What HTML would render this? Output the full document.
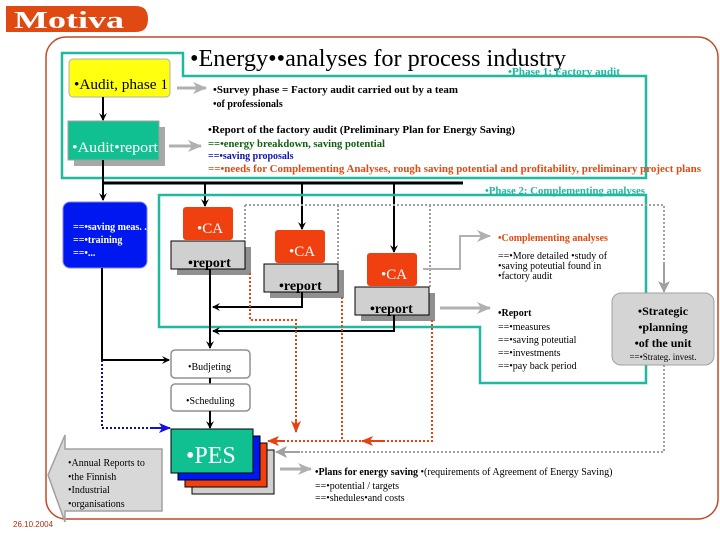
<!DOCTYPE html>
<html><head><meta charset="utf-8"><style>
html,body{margin:0;padding:0;background:#fff;width:720px;height:540px;overflow:hidden}
svg{display:block}
text{font-family:"Liberation Serif",serif}
</style></head><body>
<svg width="720" height="540" viewBox="0 0 720 540" xmlns="http://www.w3.org/2000/svg">
<defs>
<marker id="ab" markerWidth="8" markerHeight="8" refX="7" refY="4" orient="auto" markerUnits="userSpaceOnUse"><path d="M0,0 L8,4 L0,8 L3,4Z" fill="#000"/></marker>
<marker id="ag" markerWidth="14" markerHeight="12" refX="13" refY="6" orient="auto" markerUnits="userSpaceOnUse"><path d="M0,0 L14,6 L0,12 L4,6Z" fill="#b0b0b0"/></marker>
<marker id="ar" markerWidth="12" markerHeight="10" refX="11" refY="5" orient="auto" markerUnits="userSpaceOnUse"><path d="M0,0 L12,5 L0,10 L3,5Z" fill="#e84010"/></marker>
<marker id="an" markerWidth="12" markerHeight="10" refX="11" refY="5" orient="auto" markerUnits="userSpaceOnUse"><path d="M0,0 L12,5 L0,10 L3,5Z" fill="#1010e0"/></marker>
<marker id="agd" markerWidth="12" markerHeight="12" refX="11" refY="6" orient="auto" markerUnits="userSpaceOnUse"><path d="M0,0 L12,6 L0,12 L3,6Z" fill="#a0a0a0"/></marker>
</defs>
<!-- logo -->
<path d="M6,6 H136 Q148,6 148,19 Q148,32 136,32 H6Z" fill="#e04a12"/>
<text x="14" y="28" font-weight="bold" font-size="24" fill="#fff" textLength="110" lengthAdjust="spacingAndGlyphs">Motiva</text>
<!-- outer frame -->
<rect x="46" y="37" width="672" height="482" rx="20" fill="none" stroke="#c04a28" stroke-width="1.5"/>
<!-- phase 1 box -->
<path d="M62,53 H183 V76 H646 V178 H62Z" fill="none" stroke="#20b8a0" stroke-width="2.5"/>
<text x="190" y="66" font-size="24" textLength="376" lengthAdjust="spacingAndGlyphs">•Energy••analyses for process industry</text>
<text x="508" y="75" font-size="10" font-weight="bold" fill="#20b8a0" textLength="112" lengthAdjust="spacingAndGlyphs">•Phase 1: Factory audit</text>
<!-- yellow -->
<rect x="69" y="59" width="101" height="38" rx="4" fill="#ffff10" stroke="#b0b0b0"/>
<text x="74" y="89" font-size="15" textLength="94" lengthAdjust="spacingAndGlyphs">•Audit, phase 1</text>
<line x1="177" y1="88" x2="206" y2="88" stroke="#b0b0b0" stroke-width="3" marker-end="url(#ag)"/>
<text x="213" y="93" font-size="10" font-weight="bold" textLength="245" lengthAdjust="spacingAndGlyphs">•Survey phase = Factory audit carried out by a team</text>
<text x="213" y="107" font-size="10" font-weight="bold">•of professionals</text>
<!-- audit report -->
<rect x="74" y="127" width="91" height="39" fill="#a8a8a8"/>
<rect x="68" y="121" width="91" height="39" fill="#10c090" stroke="#a0a0a0"/>
<text x="72" y="152" font-size="15" fill="#fff" textLength="86" lengthAdjust="spacingAndGlyphs">•Audit•report</text>
<line x1="169" y1="146" x2="201" y2="146" stroke="#b0b0b0" stroke-width="3" marker-end="url(#ag)"/>
<text x="208" y="133" font-size="10" font-weight="bold" textLength="307" lengthAdjust="spacingAndGlyphs">•Report of the factory audit (Preliminary Plan for Energy Saving)</text>
<text x="208" y="147" font-size="10" font-weight="bold" fill="#106010" textLength="177" lengthAdjust="spacingAndGlyphs">==•energy breakdown, saving potential</text>
<text x="208" y="159" font-size="10" font-weight="bold" fill="#1010b0">==•saving proposals</text>
<text x="208" y="172" font-size="10" font-weight="bold" fill="#e04a12" textLength="493" lengthAdjust="spacingAndGlyphs">==•needs for Complementing Analyses, rough saving potential and profitability, preliminary project plans</text>
<!-- black lines top -->
<line x1="103" y1="97" x2="103" y2="120" stroke="#000" stroke-width="2" marker-end="url(#ab)"/>
<line x1="103" y1="160" x2="103" y2="200" stroke="#000" stroke-width="2" marker-end="url(#ab)"/>
<line x1="103" y1="183" x2="463" y2="183" stroke="#000" stroke-width="3"/>
<line x1="205" y1="183" x2="205" y2="206" stroke="#000" stroke-width="2" marker-end="url(#ab)"/>
<line x1="302" y1="183" x2="302" y2="229" stroke="#000" stroke-width="2" marker-end="url(#ab)"/>
<line x1="394" y1="183" x2="394" y2="252" stroke="#000" stroke-width="2" marker-end="url(#ab)"/>
<!-- phase 2 box -->
<path d="M159,195 H646 V383 H480 V327 H159Z" fill="none" stroke="#20b8a0" stroke-width="2.5"/>
<text x="485" y="194" font-size="10" font-weight="bold" fill="#20b8a0" textLength="160" lengthAdjust="spacingAndGlyphs">•Phase 2: Complementing analyses</text>
<!-- gray dotted -->
<path d="M245,205 H664 V280" fill="none" stroke="#a0a0a0" stroke-width="2" stroke-dasharray="2,2"/>
<line x1="664" y1="262" x2="664" y2="292" stroke="#a0a0a0" stroke-width="2" marker-end="url(#agd)"/>
<line x1="338" y1="205" x2="338" y2="264" stroke="#a0a0a0" stroke-width="2" stroke-dasharray="2,2"/>
<line x1="430" y1="205" x2="430" y2="287" stroke="#a0a0a0" stroke-width="2" stroke-dasharray="2,2"/>
<line x1="245" y1="205" x2="245" y2="241" stroke="#a0a0a0" stroke-width="2" stroke-dasharray="2,2"/>
<path d="M664,365 V452 H296" fill="none" stroke="#a0a0a0" stroke-width="2" stroke-dasharray="2,2"/>
<line x1="300" y1="452" x2="276" y2="452" stroke="#a0a0a0" stroke-width="2" marker-end="url(#agd)"/>
<!-- blue box -->
<rect x="63" y="202" width="84" height="66" rx="7" fill="#0018f0" stroke="#8080ff"/>
<text x="73" y="230" font-size="10" font-weight="bold" fill="#fff">==•saving meas. .</text>
<text x="73" y="243" font-size="10" font-weight="bold" fill="#fff">==•training</text>
<text x="73" y="256" font-size="10" font-weight="bold" fill="#fff">==•...</text>
<!-- CA boxes -->
<g>
<rect x="183" y="207" width="50" height="33" rx="3" fill="#f04010"/>
<text x="197" y="233" font-size="15" fill="#fff">•CA</text>
<rect x="177" y="247" width="74" height="28" fill="#909090"/>
<rect x="171" y="241" width="74" height="28" fill="#d0d0d0" stroke="#000"/>
<text x="188" y="267" font-size="14" font-weight="bold">•report</text>
</g>
<g>
<rect x="275" y="230" width="50" height="33" rx="3" fill="#f04010"/>
<text x="289" y="256" font-size="15" fill="#fff">•CA</text>
<rect x="270" y="270" width="74" height="28" fill="#909090"/>
<rect x="264" y="264" width="74" height="28" fill="#d0d0d0" stroke="#000"/>
<text x="279" y="290" font-size="14" font-weight="bold">•report</text>
</g>
<g>
<rect x="367" y="253" width="50" height="33" rx="3" fill="#f04010"/>
<text x="381" y="279" font-size="15" fill="#fff">•CA</text>
<rect x="361" y="293" width="74" height="28" fill="#909090"/>
<rect x="355" y="287" width="74" height="28" fill="#d0d0d0" stroke="#000"/>
<text x="370" y="313" font-size="14" font-weight="bold">•report</text>
</g>
<!-- black connectors middle -->
<line x1="210" y1="269" x2="210" y2="348" stroke="#000" stroke-width="2" marker-end="url(#ab)"/>
<path d="M302,292 V307 H213" fill="none" stroke="#000" stroke-width="2" marker-end="url(#ab)"/>
<path d="M394,315 V331 H213" fill="none" stroke="#000" stroke-width="2" marker-end="url(#ab)"/>
<line x1="102" y1="268" x2="102" y2="360" stroke="#000" stroke-width="2"/>
<line x1="102" y1="360" x2="169" y2="360" stroke="#000" stroke-width="2" marker-end="url(#ab)"/>
<path d="M102,360 V428 H168" fill="none" stroke="#101090" stroke-width="2" stroke-dasharray="2,2"/>
<line x1="150" y1="428" x2="170" y2="428" stroke="#1010e0" stroke-width="2" marker-end="url(#an)"/>
<!-- budjeting / scheduling -->
<rect x="171" y="350" width="79" height="28" rx="4" fill="#fff" stroke="#909090" stroke-width="1.5"/>
<text x="188" y="370" font-size="10">•Budjeting</text>
<line x1="210" y1="378" x2="210" y2="384" stroke="#000" stroke-width="2"/>
<rect x="171" y="384" width="79" height="27" rx="4" fill="#fff" stroke="#909090" stroke-width="1.5"/>
<text x="186" y="404" font-size="10">•Scheduling</text>
<line x1="210" y1="411" x2="210" y2="428" stroke="#000" stroke-width="2" marker-end="url(#ab)"/>
<!-- red dotted -->
<path d="M250,273 V320 H296 V428" fill="none" stroke="#e84010" stroke-width="2" stroke-dasharray="2,2"/>
<line x1="296" y1="420" x2="296" y2="432" stroke="#e84010" stroke-width="2" marker-end="url(#ar)"/>
<path d="M342,297 V441 M432,320 V441 H272" fill="none" stroke="#e84010" stroke-width="2" stroke-dasharray="2,2"/>
<line x1="285" y1="441" x2="268" y2="441" stroke="#e84010" stroke-width="2" marker-end="url(#ar)"/>
<line x1="385" y1="441" x2="362" y2="441" stroke="#e84010" stroke-width="2" marker-end="url(#ar)"/>
<!-- PES -->
<rect x="192" y="450" width="82" height="44" fill="#d0d0d0" stroke="#000"/>
<rect x="185" y="443" width="82" height="44" fill="#f04010" stroke="#000"/>
<rect x="178" y="436" width="82" height="44" fill="#0018f0" stroke="#000"/>
<rect x="171" y="429" width="82" height="44" fill="#10c090" stroke="#000"/>
<text x="186" y="463" font-size="24" fill="#fff">•PES</text>
<!-- gray arrows right -->
<path d="M423,269 H460 V236 H490" fill="none" stroke="#b0b0b0" stroke-width="2" marker-end="url(#ag)"/>
<line x1="440" y1="308" x2="490" y2="308" stroke="#b0b0b0" stroke-width="3" marker-end="url(#ag)"/>
<line x1="280" y1="469" x2="311" y2="469" stroke="#b0b0b0" stroke-width="3" marker-end="url(#ag)"/>
<!-- right texts -->
<text x="498" y="241" font-size="10" font-weight="bold" fill="#e04a12">•Complementing analyses</text>
<text x="498" y="259" font-size="10">==•More detailed •study of</text>
<text x="498" y="269" font-size="10">•saving poteutial found in</text>
<text x="498" y="279" font-size="10">•factory audit</text>
<text x="498" y="316" font-size="10" font-weight="bold">•Report</text>
<text x="498" y="330" font-size="10">==•measures</text>
<text x="498" y="343" font-size="10">==•saving poteutial</text>
<text x="498" y="356" font-size="10">==•investments</text>
<text x="498" y="369" font-size="10">==•pay back period</text>
<!-- strategic -->
<rect x="612" y="293" width="102" height="72" rx="9" fill="#d4d4d4" stroke="#a0a0a0"/>
<text x="663" y="315" font-size="12" font-weight="bold" text-anchor="middle">•Strategic</text>
<text x="663" y="331" font-size="12" font-weight="bold" text-anchor="middle">•planning</text>
<text x="663" y="347" font-size="12" font-weight="bold" text-anchor="middle">•of the unit</text>
<text x="663" y="360" font-size="9" text-anchor="middle">==•Strateg. invest.</text>
<!-- annual reports -->
<path d="M65,435 V449 H162 V511 H65 V522 L48,475 Z" fill="#d8d8d8" stroke="#a0a0a0" stroke-width="1.5"/>
<text x="68" y="466" font-size="10">•Annual Reports  to</text>
<text x="68" y="480" font-size="10">•the Finnish</text>
<text x="68" y="493" font-size="10">•Industrial</text>
<text x="68" y="507" font-size="10">•organisations</text>
<text x="13" y="527" font-size="8" fill="#b03010" style="font-family:'Liberation Sans',sans-serif">26.10.2004</text>
<!-- plans -->
<text x="315" y="475" font-size="10"><tspan font-weight="bold">•Plans for energy saving</tspan> •(requirements of Agreement of Energy Saving)</text>
<text x="315" y="489" font-size="10">==•potential / targets</text>
<text x="315" y="501" font-size="10">==•shedules•and costs</text>
</svg>
</body></html>
